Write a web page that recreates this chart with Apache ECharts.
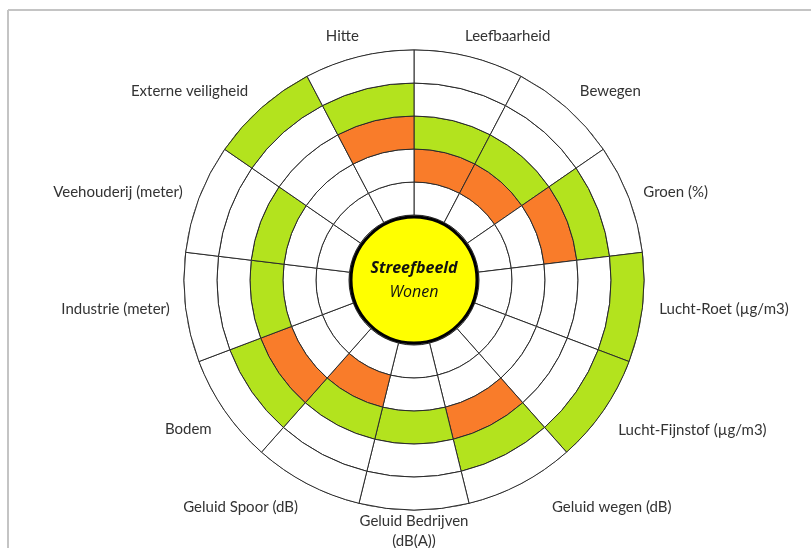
<!DOCTYPE html>
<html>
<head>
<meta charset="utf-8">
<script src="https://cdn.jsdelivr.net/npm/echarts@6/dist/echarts.min.js"></script>
<style>
html,body{margin:0;padding:0;background:#fff;}
#c{width:811px;height:548px;}
</style>
</head>
<body>
<div id="c"></div>
<script>
// Categories, clockwise starting at 12 o'clock
const categories = [
  'Leefbaarheid', 'Bewegen', 'Groen (%)', 'Lucht-Roet (µg/m3)', 'Lucht-Fijnstof (µg/m3)',
  'Geluid wegen (dB)', 'Geluid Bedrijven\n(dB(A))', 'Geluid Spoor (dB)', 'Bodem',
  'Industrie (meter)', 'Veehouderij (meter)', 'Externe veiligheid', 'Hitte'
];
// Ring (1 = innermost, 5 = outermost) coloured orange / green per category (0 = none)
const orangeRing = [2, 2, 3, 0, 0, 3, 0, 2, 3, 0, 0, 0, 3];
const greenRing  = [3, 3, 4, 5, 5, 4, 3, 3, 4, 3, 3, 5, 4];
const ringLevels = [1, 2, 3, 4, 5];
const centerTitle = 'Streefbeeld';
const centerSub = 'Wonen';

// label fine placement (styling only): padding [top, right, bottom, left]
const labelPadding = [
  [0, 0, 0, 72], [0, 0, -2, 6], [0, 0, -8, 4], [0, 0, 12, 6], [3, 0, 0, 6],
  [4, 0, 0, 26], [-10, 0, 0, 0], [4, 4, 0, 0], [2, 4, 0, 0],
  [8, 5, 0, 0], [0, 6, -8, 0], [0, 6, -2, 0], [0, 28, 0, 0]
];

const GREEN = '#b3e31e', ORANGE = '#f97c2a', WHITE = '#ffffff', LINE = '#2b2b2b';

const ringSeries = ringLevels.map(level => ({
  type: 'bar',
  coordinateSystem: 'polar',
  stack: 'rings',
  barCategoryGap: '0%',
  silent: true,
  data: categories.map((c, i) => ({
    value: 1,
    itemStyle: {
      color: orangeRing[i] === level ? ORANGE : (greenRing[i] === level ? GREEN : WHITE),
      borderColor: LINE,
      borderWidth: 1
    }
  }))
}));

const chart = echarts.init(document.getElementById('c'), null, {renderer: 'canvas'});
chart.setOption({
  animation: false,
  backgroundColor: '#ffffff',
  polar: { center: [414, 280], radius: [65, 230] },
  angleAxis: {
    type: 'category',
    data: categories.map((c, i) => ({ value: c, textStyle: { padding: labelPadding[i] } })),
    startAngle: 90,
    clockwise: true,
    boundaryGap: true,
    axisLine: { show: true, lineStyle: { color: LINE, width: 1 } },
    axisTick: { show: false },
    splitLine: { show: false },
    axisLabel: {
      show: true, margin: 11, color: '#333', fontSize: 15,
      fontFamily: 'Lato', lineHeight: 20
    }
  },
  radiusAxis: {
    type: 'value', min: 0, max: 5,
    axisLine: { show: false }, axisTick: { show: false },
    axisLabel: { show: false }, splitLine: { show: false }
  },
  graphic: [
    { type: 'line', shape: { x1: 8, y1: 10, x2: 811, y2: 10 }, style: { stroke: '#c4c4c4', lineWidth: 2 } },
    { type: 'line', shape: { x1: 8, y1: 10, x2: 8, y2: 548 }, style: { stroke: '#c4c4c4', lineWidth: 2 } }
  ],
  series: ringSeries.concat([{
    type: 'pie',
    center: [414, 280],
    radius: [0, 63],
    silent: true,
    emphasis: { disabled: true },
    data: [{ value: 1, name: centerTitle }],
    itemStyle: { color: '#ffff00', borderColor: '#000', borderWidth: 3 },
    label: {
      show: true, position: 'center',
      formatter: '{a|' + centerTitle + '}\n{b|' + centerSub + '}',
      rich: {
        a: { fontSize: 16, fontWeight: 'bold', fontStyle: 'italic', color: '#111', fontFamily: 'Open Sans', lineHeight: 24 },
        b: { fontSize: 16, fontStyle: 'italic', color: '#111', fontFamily: 'Open Sans', lineHeight: 24 }
      }
    },
    labelLine: { show: false }
  }])
});
</script>
</body>
</html>
